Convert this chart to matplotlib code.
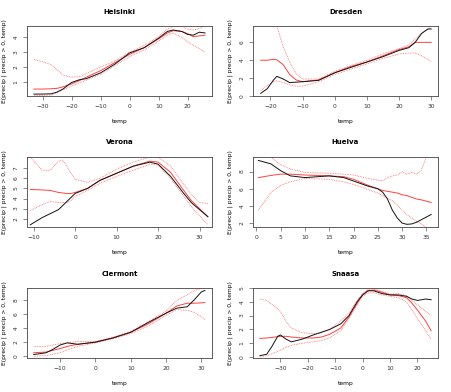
import numpy as np
import matplotlib
matplotlib.use("Agg")
import matplotlib.pyplot as plt

# per-site curves: temp grid, observed (black), fit (red), upper/lower bands (red dotted)
helsinki_x = [-33, -30, -27, -25, -23, -20, -17, -15, -10, -5, 0, 5, 10, 13, 15, 18, 20, 22, 24, 26]
helsinki_obs = [0.16, 0.16, 0.18, 0.3, 0.5, 0.95, 1.15, 1.2, 1.6, 2.2, 2.95, 3.3, 3.95, 4.4, 4.5, 4.4, 4.2, 4.15, 4.35, 4.3]
helsinki_fit = [0.5, 0.5, 0.52, 0.55, 0.65, 0.85, 1.1, 1.3, 1.75, 2.3, 2.85, 3.3, 3.9, 4.3, 4.45, 4.4, 4.25, 4.05, 4.1, 4.15]
helsinki_hi = [2.5, 2.35, 2.15, 1.8, 1.45, 1.3, 1.35, 1.55, 2.0, 2.4, 3.0, 3.45, 4.05, 4.55, 4.75, 4.75, 4.55, 4.5, 4.6, 4.8]
helsinki_lo = [0.05, 0.07, 0.1, 0.25, 0.45, 0.7, 0.95, 1.1, 1.5, 2.1, 2.7, 3.15, 3.75, 4.15, 4.3, 4.0, 3.7, 3.45, 3.25, 3.0]

dresden_x = [-23, -21, -19, -18, -16, -14, -12, -10, -5, 0, 5, 10, 15, 20, 23, 25, 27, 29, 30]
dresden_obs = [0.3, 0.8, 1.8, 2.2, 1.9, 1.5, 1.55, 1.6, 1.75, 2.6, 3.2, 3.8, 4.4, 5.1, 5.4, 6.0, 7.0, 7.5, 7.5]
dresden_fit = [4.0, 4.0, 4.1, 4.05, 3.5, 2.4, 1.8, 1.6, 1.8, 2.6, 3.3, 3.8, 4.5, 5.2, 5.5, 6.0, 6.0, 6.0, 6.0]
dresden_hi = [11.0, 9.5, 8.2, 7.8, 5.5, 3.8, 2.5, 1.9, 1.9, 2.75, 3.4, 4.0, 4.7, 5.3, 5.7, 6.4, 7.0, 7.5, 7.8]
dresden_lo = [0.6, 1.2, 1.6, 1.7, 1.5, 1.25, 1.1, 1.1, 1.6, 2.4, 3.0, 3.6, 4.2, 4.7, 4.8, 4.8, 4.5, 4.1, 3.8]

verona_x = [-10.8, -8, -6, -4, -3, -2, -1, 0, 3, 6, 10, 14, 18, 20, 23, 26, 28, 30, 32]
verona_obs = [1.4, 2.1, 2.5, 2.9, 3.3, 3.7, 4.1, 4.5, 5.0, 5.8, 6.5, 7.2, 7.6, 7.4, 6.2, 4.6, 3.6, 2.9, 2.2]
verona_fit = [4.9, 4.85, 4.8, 4.6, 4.55, 4.5, 4.5, 4.6, 5.0, 5.8, 6.5, 7.2, 7.7, 7.6, 6.6, 4.9, 3.8, 3.0, 2.2]
verona_hi = [8.1, 6.8, 6.8, 7.7, 7.8, 7.2, 6.5, 5.9, 5.6, 6.0, 6.9, 7.6, 8.1, 8.1, 7.2, 5.5, 4.4, 3.6, 3.5]
verona_lo = [2.8, 3.4, 3.7, 3.6, 3.6, 3.6, 3.8, 4.2, 4.8, 5.5, 6.2, 6.8, 7.4, 7.3, 6.0, 4.3, 3.2, 2.3, 1.4]

huelva_x = [0.4, 3, 5, 7, 10, 15, 18, 20, 23, 25, 26, 27, 28, 29, 30, 31, 32, 33, 34, 35, 36]
huelva_obs = [9.3, 8.9, 8.1, 7.5, 7.3, 7.5, 7.3, 6.9, 6.3, 6.0, 5.6, 4.8, 3.5, 2.6, 2.0, 1.85, 1.9, 2.1, 2.4, 2.7, 3.0]
huelva_fit = [7.3, 7.55, 7.7, 7.7, 7.6, 7.5, 7.4, 7.1, 6.4, 6.0, 5.8, 5.7, 5.6, 5.5, 5.3, 5.2, 5.0, 4.8, 4.7, 4.55, 4.4]
huelva_hi = [11.0, 9.7, 8.8, 8.3, 7.9, 7.8, 7.7, 7.6, 7.2, 7.0, 6.9, 7.3, 7.5, 7.6, 8.0, 7.7, 7.9, 7.7, 8.2, 9.7, 11.0]
huelva_lo = [3.5, 5.6, 6.4, 6.8, 7.2, 7.1, 6.8, 6.5, 5.9, 5.5, 5.2, 4.9, 4.6, 4.1, 3.5, 3.0, 2.6, 2.2, 1.9, 1.5, 1.2]

clermont_x = [-17.5, -14, -12, -10, -8, -5, 0, 5, 10, 15, 20, 23, 26, 28, 30, 31]
clermont_obs = [0.25, 0.5, 1.0, 1.6, 1.9, 1.7, 2.0, 2.6, 3.4, 4.8, 6.1, 6.8, 7.0, 8.0, 9.1, 9.3]
clermont_fit = [0.5, 0.6, 0.85, 1.1, 1.4, 1.7, 2.0, 2.6, 3.4, 4.6, 6.1, 7.1, 7.5, 7.5, 7.55, 7.6]
clermont_hi = [1.4, 1.4, 1.6, 1.8, 1.9, 2.1, 2.1, 2.7, 3.5, 4.9, 6.4, 7.9, 8.7, 9.3, 9.6, 9.8]
clermont_lo = [0.0, 0.1, 0.3, 0.5, 0.9, 1.4, 1.9, 2.5, 3.2, 4.3, 5.8, 6.6, 6.5, 6.2, 5.6, 5.2]

snaasa_x = [-37.5, -35, -33, -31, -30, -28, -26, -22, -18, -15, -12, -8, -5, -2, 0, 2, 4, 7, 10, 13, 16, 18, 20, 23, 25]
snaasa_obs = [0.1, 0.2, 0.8, 1.5, 1.6, 1.3, 1.1, 1.3, 1.6, 1.8, 2.0, 2.4, 3.0, 4.0, 4.5, 4.8, 4.8, 4.6, 4.5, 4.5, 4.4, 4.2, 4.1, 4.2, 4.15]
snaasa_fit = [1.35, 1.38, 1.42, 1.48, 1.5, 1.5, 1.45, 1.38, 1.38, 1.45, 1.65, 2.1, 2.9, 3.9, 4.5, 4.8, 4.85, 4.7, 4.5, 4.45, 4.3, 3.9, 3.4, 2.6, 1.9]
snaasa_hi = [4.2, 4.1, 3.8, 3.5, 3.3, 2.6, 2.1, 1.75, 1.7, 1.75, 2.0, 2.6, 3.2, 4.1, 4.6, 4.9, 4.95, 4.75, 4.55, 4.6, 4.45, 4.1, 3.8, 3.3, 3.0]
snaasa_lo = [0.0, 0.1, 0.25, 0.4, 0.5, 0.7, 0.85, 1.0, 1.1, 1.2, 1.4, 1.9, 2.8, 3.8, 4.4, 4.65, 4.65, 4.5, 4.4, 4.3, 4.0, 3.4, 2.8, 1.9, 1.3]

sites = [
    ("Helsinki", helsinki_x, helsinki_obs, helsinki_fit, helsinki_hi, helsinki_lo,
     (-35.4, 28.4), (0.03, 4.77), [-30, -20, -10, 0, 10, 20], [1, 2, 3, 4]),
    ("Dresden", dresden_x, dresden_obs, dresden_fit, dresden_hi, dresden_lo,
     (-25.4, 32.1), (0.0, 7.83), [-20, -10, 0, 10, 20, 30], [0, 2, 4, 6]),
    ("Verona", verona_x, verona_obs, verona_fit, verona_hi, verona_lo,
     (-11.6, 33.0), (1.18, 8.11), [-10, 0, 10, 20, 30], [2, 3, 4, 5, 6, 7]),
    ("Huelva", huelva_x, huelva_obs, huelva_fit, huelva_hi, huelva_lo,
     (-0.7, 37.4), (1.54, 9.7), [0, 5, 10, 15, 20, 25, 30, 35], [2, 4, 6, 8]),
    ("Clermont", clermont_x, clermont_obs, clermont_fit, clermont_hi, clermont_lo,
     (-19.4, 33.0), (-0.24, 9.65), [-10, 0, 10, 20, 30], [0, 2, 4, 6, 8]),
    ("Snaasa", snaasa_x, snaasa_obs, snaasa_fit, snaasa_hi, snaasa_lo,
     (-40.0, 27.5), (-0.07, 5.0), [-30, -20, -10, 0, 10, 20], [0, 1, 2, 3, 4, 5]),
]

W, H = 452, 392
fig = plt.figure(figsize=(W / 100, H / 100), dpi=100)

lefts = [27, 253]
tops = [26, 157, 288]
bw, bh = 185, 70

for i, (name, x, obs, fit, hi, lo, xl, yl, xt, yt) in enumerate(sites):
    r, c = divmod(i, 2)
    ax = fig.add_axes([lefts[c] / W, 1 - (tops[r] + bh) / H, bw / W, bh / H])
    ax.plot(x, hi, color="#ff3030", lw=0.6, ls=(0, (1, 1)), alpha=0.7)
    ax.plot(x, lo, color="#ff3030", lw=0.6, ls=(0, (1, 1)), alpha=0.7)
    ax.plot(x, fit, color="#ff2020", lw=0.7, alpha=0.85)
    ax.plot(x, obs, color="#111111", lw=0.7)
    ax.set_xlim(*xl)
    ax.set_ylim(*yl)
    ax.set_xticks(xt)
    ax.set_yticks(yt)
    ax.tick_params(labelsize=4.3, length=3, width=0.4, pad=3, colors="#333333")
    for lab in ax.get_yticklabels():
        lab.set_rotation(90)
        lab.set_va("center")
    for s in ax.spines.values():
        s.set_linewidth(0.6)
        s.set_color("#444444")
    ax.set_title(name, fontsize=5, fontweight="bold", pad=9)
    ax.set_xlabel("temp", fontsize=4.3, labelpad=7)
    ax.set_ylabel("E(precip | precip > 0, temp)", fontsize=4.3, labelpad=5)

fig.savefig("out.png", dpi=100)
